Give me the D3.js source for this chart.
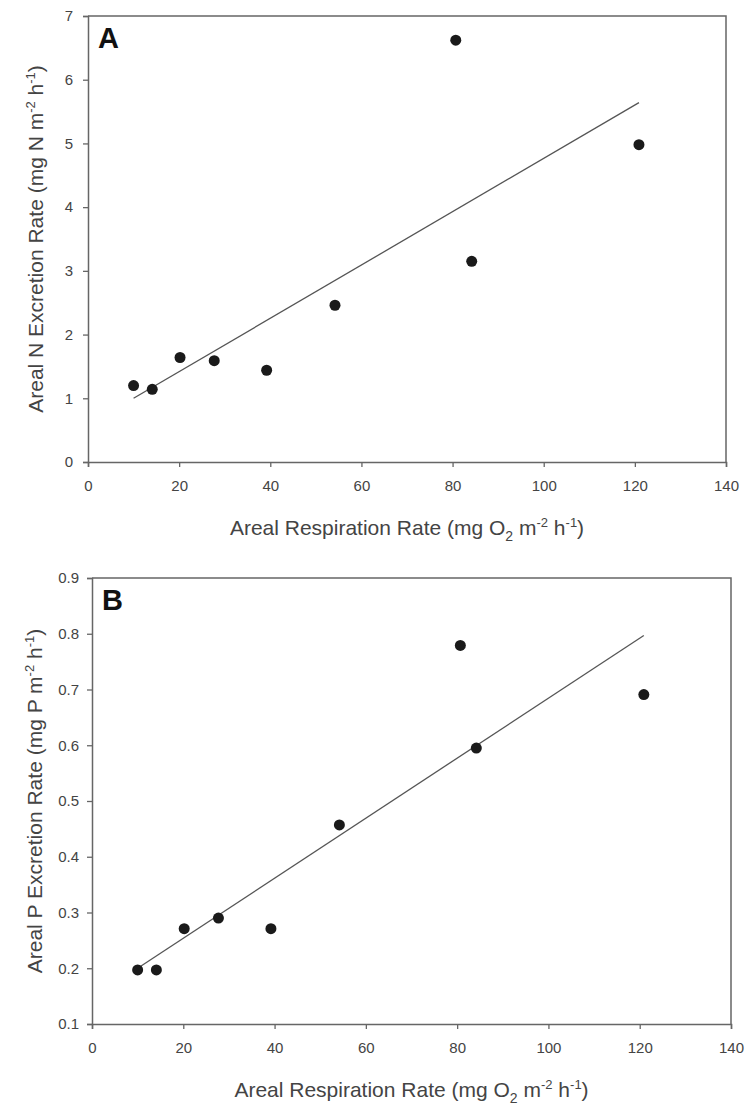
<!DOCTYPE html>
<html><head><meta charset="utf-8">
<script src="https://cdn.jsdelivr.net/npm/d3@7"></script>
<style>
body{margin:0;background:#fff;}
svg text{font-family:"Liberation Sans",Arial,sans-serif;}
</style></head>
<body><svg id="c" width="746" height="1105"></svg>
<script>
const respiration = [10, 14.1, 20.2, 27.7, 39.2, 54.2, 80.7, 84.2, 120.9];
const nExcretion = [1.2, 1.14, 1.64, 1.59, 1.44, 2.46, 6.62, 3.15, 4.98];
const pExcretion = [0.197, 0.197, 0.271, 0.29, 0.271, 0.457, 0.779, 0.595, 0.691];
const nFitX = [10, 120.9];
const nFitY = [1.0, 5.64];
const pFitX = [10, 120.9];
const pFitY = [0.2, 0.797];
const xTicks = [0, 20, 40, 60, 80, 100, 120, 140];
const nTicks = [0, 1, 2, 3, 4, 5, 6, 7];
const pTicks = [0.1, 0.2, 0.3, 0.4, 0.5, 0.6, 0.7, 0.8, 0.9];

const svg = d3.select("#c");
const axisColor = "#666";
const textColor = "#444";

function panel(cfg){
  const g = svg.append("g");
  const x = d3.scaleLinear().domain([0,140]).range([cfg.left, cfg.right]);
  const y = d3.scaleLinear().domain(cfg.yDomain).range([cfg.bottom, cfg.top]);
  g.append("path").attr("d", `M${cfg.left},${cfg.top}H${cfg.right}V${cfg.bottom}`)
    .attr("fill","none").attr("stroke",axisColor).attr("stroke-width",1.5);
  const xa = g.append("g").attr("transform",`translate(0,${cfg.bottom})`)
    .call(d3.axisBottom(x).tickValues(xTicks).tickSize(5).tickPadding(13).tickFormat(d3.format("d")));
  const ya = g.append("g").attr("transform",`translate(${cfg.left},0)`)
    .call(d3.axisLeft(y).tickValues(cfg.yTicks).tickSize(5).tickPadding(cfg.yPad).tickFormat(cfg.yFmt));
  [xa,ya].forEach(a=>{
    a.select(".domain").attr("stroke",axisColor).attr("stroke-width",1.5);
    a.selectAll(".tick line").attr("stroke",axisColor).attr("stroke-width",1.3);
    a.selectAll(".tick text").attr("fill",textColor).attr("font-size",15)
      .style("font-family","'Liberation Sans',Arial,sans-serif");
  });
  g.append("line").attr("x1",x(cfg.fitX[0])).attr("y1",y(cfg.fitY[0]))
    .attr("x2",x(cfg.fitX[1])).attr("y2",y(cfg.fitY[1]))
    .attr("stroke","#555").attr("stroke-width",1.3);
  g.selectAll("circle.pt").data(respiration.map((r,i)=>[r,cfg.yVals[i]])).enter()
    .append("circle").attr("class","pt").attr("cx",d=>x(d[0])).attr("cy",d=>y(d[1]))
    .attr("r",5.5).attr("fill","#1a1a1a");
  g.append("text").attr("x",cfg.left+10).attr("y",cfg.top+32).text(cfg.letter)
    .attr("font-size",29).attr("font-weight","bold").attr("fill","#111");
  const xt = g.append("text").attr("x",(cfg.left+cfg.right)/2).attr("y",cfg.bottom+73)
    .attr("text-anchor","middle").attr("font-size",21).attr("fill",textColor);
  xt.append("tspan").text("Areal Respiration Rate (mg O");
  xt.append("tspan").text("2").attr("font-size",14).attr("dy",6);
  xt.append("tspan").text(" m").attr("dy",-6);
  xt.append("tspan").text("-2").attr("font-size",13).attr("dy",-8);
  xt.append("tspan").text(" h").attr("dy",8);
  xt.append("tspan").text("-1").attr("font-size",13).attr("dy",-8);
  xt.append("tspan").text(")").attr("dy",8);
  const cy = (cfg.top+cfg.bottom)/2;
  const yt = g.append("text").attr("transform",`translate(${cfg.yTitleX},${cy}) rotate(-90)`)
    .attr("text-anchor","middle").attr("font-size",21).attr("fill",textColor);
  yt.append("tspan").text(`Areal ${cfg.el} Excretion Rate (mg ${cfg.el} m`);
  yt.append("tspan").text("-2").attr("font-size",13).attr("dy",-8);
  yt.append("tspan").text(" h").attr("dy",8);
  yt.append("tspan").text("-1").attr("font-size",13).attr("dy",-8);
  yt.append("tspan").text(")").attr("dy",8);
}

panel({left:88,right:726,top:16,bottom:462,yDomain:[0,7],yTicks:nTicks,yFmt:d3.format("d"),
  yVals:nExcretion,fitX:nFitX,fitY:nFitY,letter:"A",el:"N",yTitleX:43,yPad:10});
panel({left:92,right:731,top:578,bottom:1024,yDomain:[0.1,0.9],yTicks:pTicks,yFmt:d3.format(".1f"),
  yVals:pExcretion,fitX:pFitX,fitY:pFitY,letter:"B",el:"P",yTitleX:42,yPad:8});
</script></body></html>
